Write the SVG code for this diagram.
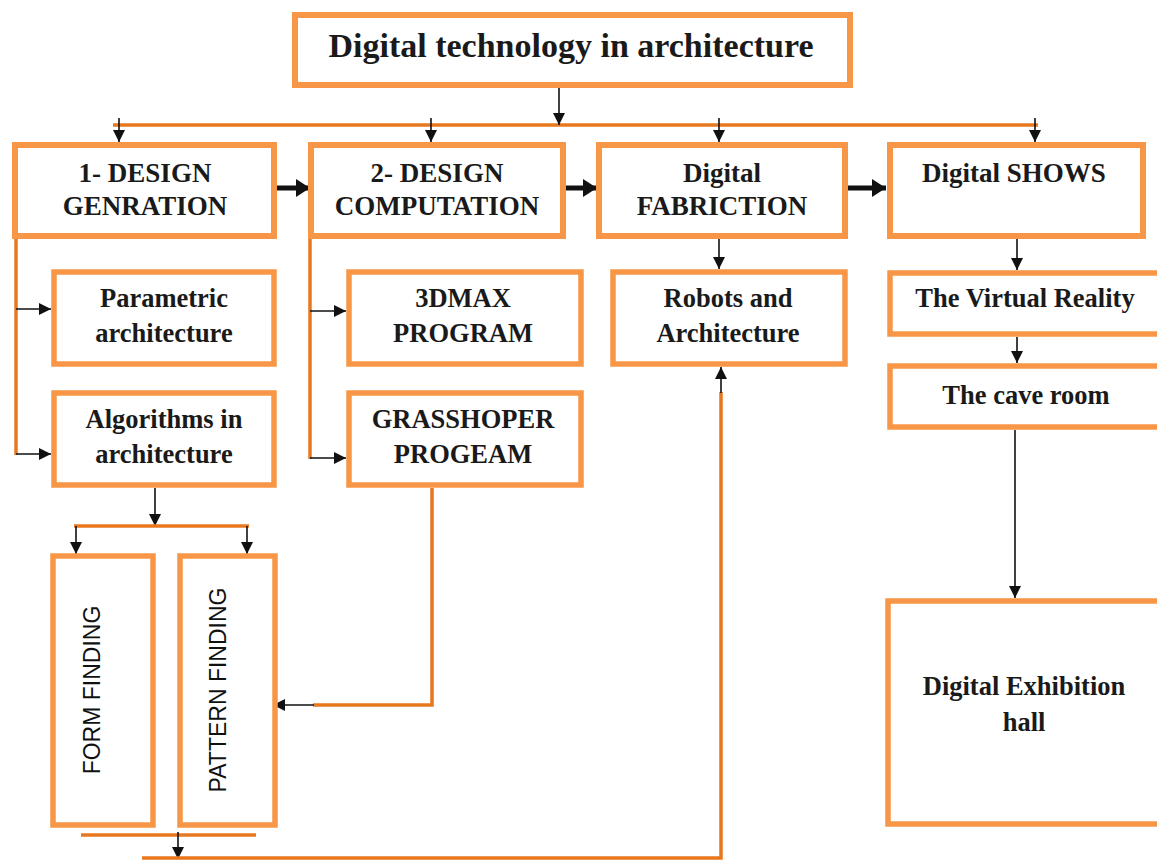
<svg xmlns="http://www.w3.org/2000/svg" width="1157" height="860" viewBox="0 0 1157 860">
  <style>
    .box { fill: #ffffff; stroke: #F79646; stroke-width: 6; }
    .sub { fill: #ffffff; stroke: #F79646; stroke-width: 5.5; }
    .t { font-family: "Liberation Serif", "Times New Roman", serif; font-weight: bold; fill: #1a1a1a; text-anchor: middle; }
    .title { font-size: 34px; }
    .h1 { font-size: 27px; }
    .h2 { font-size: 26.5px; }
    .v { font-family: "Liberation Sans", Arial, sans-serif; font-size: 23px; fill: #111; text-anchor: middle; }
    .or { fill: none; stroke: #E8781E; stroke-width: 3.5; }
    .bk { fill: none; stroke: #111; stroke-width: 1.6; marker-end: url(#head); }
    .thick { fill: none; stroke: #111; stroke-width: 5; marker-end: url(#bighead); }
  </style>
  <defs>
    <marker id="head" markerUnits="userSpaceOnUse" markerWidth="13" markerHeight="12" refX="12" refY="6" orient="auto">
      <path d="M0,0 L12,6 L0,12 z" fill="#111"/>
    </marker>
    <marker id="bighead" markerUnits="userSpaceOnUse" markerWidth="15" markerHeight="18" refX="14" refY="9" orient="auto">
      <path d="M0,0 L14,9 L0,18 z" fill="#111"/>
    </marker>
  </defs>
  <rect width="1157" height="860" fill="#ffffff"/>

  <!-- connectors -->
  <g id="connectors">
    <!-- trunk from the title down to the distribution bar -->
    <line class="or" x1="113" y1="125" x2="1038" y2="125"/>
    <line class="bk" x1="559" y1="88" x2="559" y2="125"/>
    <line class="bk" x1="119" y1="118" x2="119" y2="142"/>
    <line class="bk" x1="431" y1="118" x2="431" y2="142"/>
    <line class="bk" x1="719" y1="118" x2="719" y2="142"/>
    <line class="bk" x1="1035" y1="118" x2="1035" y2="142"/>

    <!-- sequence arrows along the first row -->
    <line class="thick" x1="277" y1="188" x2="310" y2="188"/>
    <line class="thick" x1="566" y1="188" x2="597" y2="188"/>
    <line class="thick" x1="848" y1="188" x2="886" y2="188"/>

    <!-- design generation branches -->
    <line class="or" x1="16" y1="239" x2="16" y2="455"/>
    <line class="bk" x1="16" y1="309" x2="51" y2="309"/>
    <line class="bk" x1="16" y1="454" x2="51" y2="454"/>

    <!-- design computation branches -->
    <line class="or" x1="310" y1="239" x2="310" y2="459"/>
    <line class="bk" x1="310" y1="311" x2="346" y2="311"/>
    <line class="bk" x1="310" y1="458" x2="346" y2="458"/>

    <!-- fabrication and shows -->
    <line class="bk" x1="719" y1="239" x2="719" y2="269"/>
    <line class="bk" x1="1017" y1="239" x2="1017" y2="270"/>
    <line class="bk" x1="1017" y1="337" x2="1017" y2="363"/>
    <line class="bk" x1="1015" y1="430" x2="1015" y2="598"/>

    <!-- algorithms split -->
    <line class="bk" x1="155" y1="488" x2="155" y2="526"/>
    <line class="or" x1="74" y1="526" x2="249" y2="526"/>
    <line class="bk" x1="76" y1="526" x2="76" y2="554"/>
    <line class="bk" x1="247" y1="526" x2="247" y2="554"/>

    <!-- grasshopper into pattern finding -->
    <polyline class="or" points="432,488 432,705 313,705"/>
    <line class="bk" x1="314" y1="705" x2="273" y2="705"/>

    <!-- findings feed back to robots -->
    <line class="or" x1="81" y1="835" x2="256" y2="835"/>
    <line class="bk" x1="178" y1="832" x2="178" y2="859"/>
    <polyline class="or" points="142,858 721,858 721,392"/>
    <line class="bk" x1="721" y1="393" x2="721" y2="367"/>
  </g>

  <g id="n-title">
    <rect class="box" x="295" y="15" width="555" height="70"/>
    <text class="t title" x="571" y="57">Digital technology in architecture</text>
  </g>

  <g id="n-generation">
    <rect class="box" x="15" y="145" width="259" height="91"/>
    <text class="t h1" x="145" y="182">1- DESIGN</text>
    <text class="t h1" x="145" y="215">GENRATION</text>
  </g>
  <g id="n-computation">
    <rect class="box" x="311" y="145" width="252" height="91"/>
    <text class="t h1" x="437" y="182">2- DESIGN</text>
    <text class="t h1" x="437" y="215">COMPUTATION</text>
  </g>
  <g id="n-fabrication">
    <rect class="box" x="599" y="145" width="246" height="91"/>
    <text class="t h1" x="722" y="182">Digital</text>
    <text class="t h1" x="722" y="215">FABRICTION</text>
  </g>
  <g id="n-shows">
    <rect class="box" x="890" y="145" width="253" height="91"/>
    <text class="t h1" x="1014" y="182">Digital SHOWS</text>
  </g>

  <g id="n-parametric">
    <rect class="sub" x="54" y="272" width="220" height="92"/>
    <text class="t h2" x="164" y="307">Parametric</text>
    <text class="t h2" x="164" y="342">architecture</text>
  </g>
  <g id="n-algorithms">
    <rect class="sub" x="54" y="393" width="220" height="92"/>
    <text class="t h2" x="164" y="428">Algorithms in</text>
    <text class="t h2" x="164" y="463">architecture</text>
  </g>
  <g id="n-3dmax">
    <rect class="sub" x="349" y="272" width="232" height="92"/>
    <text class="t h2" x="463" y="307">3DMAX</text>
    <text class="t h2" x="463" y="342">PROGRAM</text>
  </g>
  <g id="n-grasshopper">
    <rect class="sub" x="349" y="393" width="232" height="92"/>
    <text class="t h2" x="463" y="428">GRASSHOPER</text>
    <text class="t h2" x="463" y="463">PROGEAM</text>
  </g>
  <g id="n-robots">
    <rect class="sub" x="613" y="272" width="232" height="92"/>
    <text class="t h2" x="728" y="307">Robots and</text>
    <text class="t h2" x="728" y="342">Architecture</text>
  </g>
  <g id="n-vr">
    <rect class="sub" x="890" y="273" width="275" height="61"/>
    <text class="t h2" x="1025" y="307">The Virtual Reality</text>
  </g>
  <g id="n-cave">
    <rect class="sub" x="890" y="366" width="275" height="61"/>
    <text class="t h2" x="1026" y="404">The cave room</text>
  </g>
  <g id="n-exhibition">
    <rect class="sub" x="888" y="601" width="277" height="223"/>
    <text class="t h2" x="1024" y="695">Digital Exhibition</text>
    <text class="t h2" x="1024" y="731">hall</text>
  </g>

  <g id="n-form">
    <rect class="sub" x="53" y="556" width="100" height="269"/>
    <text class="v" transform="translate(99.5,690) rotate(-90)">FORM FINDING</text>
  </g>
  <g id="n-pattern">
    <rect class="sub" x="180" y="556" width="95" height="269"/>
    <text class="v" transform="translate(226,690) rotate(-90)">PATTERN FINDING</text>
  </g>
</svg>
